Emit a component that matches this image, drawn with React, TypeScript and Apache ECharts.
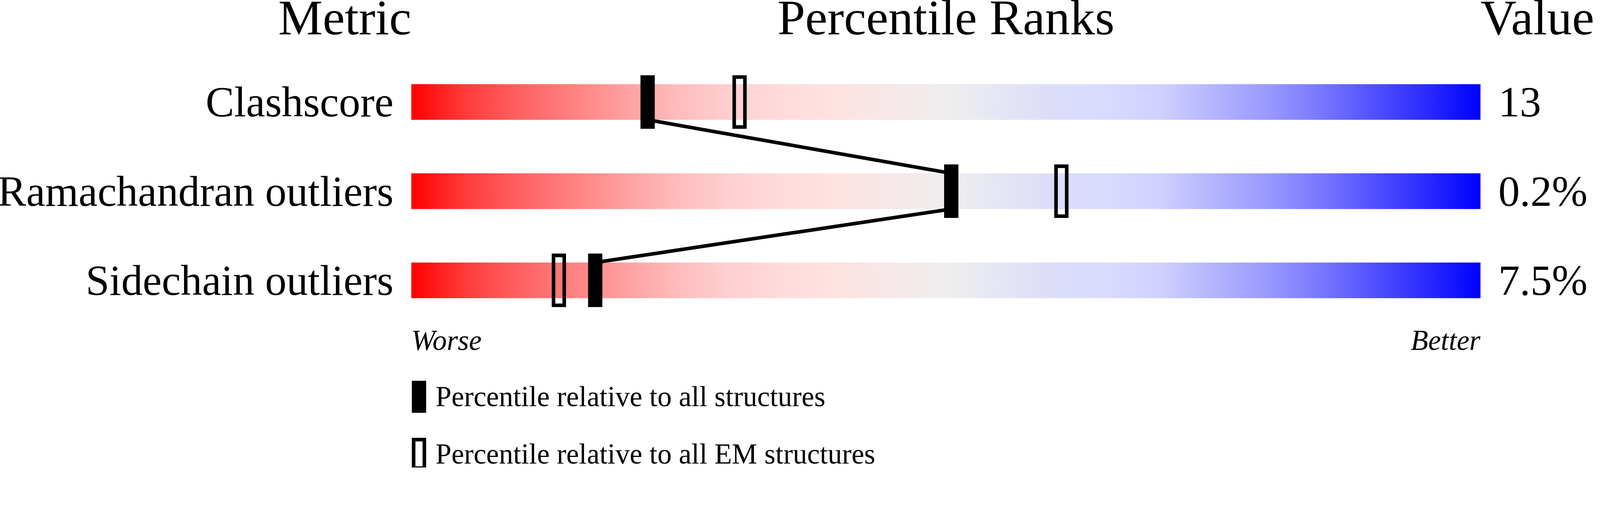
import * as echarts from 'echarts';
import { useEffect, useRef } from 'react';

const metrics = ['Clashscore', 'Ramachandran outliers', 'Sidechain outliers'];
const metricValues = ['13', '0.2%', '7.5%'];
// percentile ranks, 0 = worse, 100 = better
const rankAll = [22.1, 50.5, 17.2];
const rankEm = [30.7, 60.8, 13.8];

const headers = ['Metric', 'Percentile Ranks', 'Value'];
const legendAll = 'Percentile relative to all structures';
const legendEm = 'Percentile relative to all EM structures';

const gradientStops = [
  { offset: 0, color: '#ff0000' },
  { offset: 0.05, color: '#ff3a3a' },
  { offset: 0.1, color: '#ff6060' },
  { offset: 0.15, color: '#ff8080' },
  { offset: 0.2, color: '#ffa0a0' },
  { offset: 0.25, color: '#ffbcbc' },
  { offset: 0.3, color: '#ffd0d0' },
  { offset: 0.35, color: '#ffdcdc' },
  { offset: 0.4, color: '#ffe2e2' },
  { offset: 0.45, color: '#f5e8e8' },
  { offset: 0.5, color: '#eeeeee' },
  { offset: 0.55, color: '#e6e6f4' },
  { offset: 0.6, color: '#dcdcfa' },
  { offset: 0.65, color: '#dadaff' },
  { offset: 0.7, color: '#d0d0ff' },
  { offset: 0.75, color: '#b4b4ff' },
  { offset: 0.8, color: '#9a9aff' },
  { offset: 0.85, color: '#7878ff' },
  { offset: 0.9, color: '#5050ff' },
  { offset: 0.95, color: '#2a2aff' },
  { offset: 1, color: '#0000ff' },
];

const FONT = '"Liberation Serif", "Times New Roman", serif';
// layout is designed on a 4485 x 1311 canvas and scaled to the real viewport
const BASE_W = 4485;
const BASE_H = 1311;
const HALF_BAR = 0.2; // in row units (row spacing 250px, bar 100px)

// open marker: a frame, drawn as a filled path so the stroke stays even
const openMarker = 'path://M0,0H40V150H0Z M10,10V140H30V10Z';
const openLegendIcon = 'path://M0,0H40V90H0Z M10,10V80H30V10Z';

function buildOption(s: number) {
  const px = (v: number) => v * s;
  const gridLeft = 1153;
  const gridRight = 335;

  const linkPoints: [number, number][] = [];
  rankAll.forEach((v, i) => {
    if (i > 0) linkPoints.push([v, i - HALF_BAR]);
    if (i < rankAll.length - 1) linkPoints.push([v, i + HALF_BAR]);
  });

  const catLabel = {
    margin: px(50),
    fontFamily: FONT,
    fontSize: px(120),
    color: '#000',
    padding: [px(22), 0, 0, 0],
  };

  const headerStyle = (text: string, align: string) => ({
    text,
    font: `${px(140)}px ${FONT}`,
    fill: '#000',
    textAlign: align,
    textVerticalAlign: 'middle',
  });

  const legendBase = {
    orient: 'vertical',
    left: px(1149),
    itemWidth: px(40),
    itemHeight: px(90),
    textStyle: {
      fontFamily: FONT,
      fontSize: px(80),
      color: '#000',
      padding: [px(28), 0, 0, px(21)],
    },
  };

  return {
    animation: false,
    grid: {
      left: px(gridLeft),
      right: px(gridRight),
      top: px(161),
      height: px(750),
      outerBoundsMode: 'none',
    },
    xAxis: {
      type: 'value',
      min: 0,
      max: 100,
      interval: 100,
      splitLine: { show: false },
      axisLine: { show: false },
      axisTick: { show: false },
      axisLabel: {
        margin: px(3),
        fontFamily: FONT,
        fontSize: px(80),
        fontStyle: 'italic',
        color: '#000',
        alignMinLabel: 'left',
        alignMaxLabel: 'right',
        formatter: (v: number) => (v === 0 ? 'Worse' : 'Better'),
      },
    },
    yAxis: [
      {
        type: 'category',
        data: metrics,
        inverse: true,
        axisLine: { show: false },
        axisTick: { show: false },
        axisLabel: catLabel,
      },
      {
        type: 'category',
        data: metricValues,
        inverse: true,
        position: 'right',
        axisLine: { show: false },
        axisTick: { show: false },
        axisLabel: catLabel,
      },
      {
        type: 'value',
        show: false,
        min: -0.5,
        max: 2.5,
        inverse: true,
      },
    ],
    legend: [
      { ...legendBase, top: px(1062), data: [{ name: legendAll, icon: 'rect' }] },
      { ...legendBase, top: px(1222), data: [{ name: legendEm, icon: openLegendIcon }] },
    ],
    graphic: [
      {
        type: 'text',
        x: px(gridLeft),
        y: px(49),
        style: headerStyle(headers[0], 'right'),
      },
      {
        type: 'text',
        x: px((gridLeft + BASE_W - gridRight) / 2),
        y: px(49),
        style: headerStyle(headers[1], 'center'),
      },
      {
        type: 'text',
        x: px(BASE_W - gridRight),
        y: px(49),
        style: headerStyle(headers[2], 'left'),
      },
    ],
    series: [
      {
        name: 'scale',
        type: 'bar',
        yAxisIndex: 0,
        barWidth: px(100),
        silent: true,
        z: 1,
        itemStyle: { color: new echarts.graphic.LinearGradient(0, 0, 1, 0, gradientStops) },
        data: metrics.map(() => 100),
      },
      {
        name: 'link',
        type: 'line',
        yAxisIndex: 2,
        symbol: 'none',
        silent: true,
        z: 3,
        lineStyle: { color: '#000', width: px(10) },
        data: linkPoints,
      },
      {
        name: legendAll,
        type: 'scatter',
        yAxisIndex: 2,
        symbol: 'rect',
        symbolSize: [px(40), px(150)],
        z: 4,
        itemStyle: { color: '#000', opacity: 1 },
        data: rankAll.map((v, i) => [v, i]),
      },
      {
        name: legendEm,
        type: 'scatter',
        yAxisIndex: 2,
        symbol: openMarker,
        symbolSize: [px(40), px(150)],
        z: 4,
        itemStyle: { color: '#000', opacity: 1 },
        data: rankEm.map((v, i) => [v, i]),
      },
    ],
  };
}

export default function App() {
  const ref = useRef<HTMLDivElement | null>(null);
  const s = (typeof window !== 'undefined' ? window.innerWidth : BASE_W) / BASE_W;

  useEffect(() => {
    document.body.style.margin = '0';
    document.body.style.overflow = 'hidden';
    if (!ref.current) return;
    const chart = echarts.init(ref.current, undefined, { renderer: 'svg' });
    chart.setOption(buildOption(s));
    return () => chart.dispose();
  }, [s]);

  return <div ref={ref} style={{ width: BASE_W * s, height: BASE_H * s, background: '#fff' }} />;
}
